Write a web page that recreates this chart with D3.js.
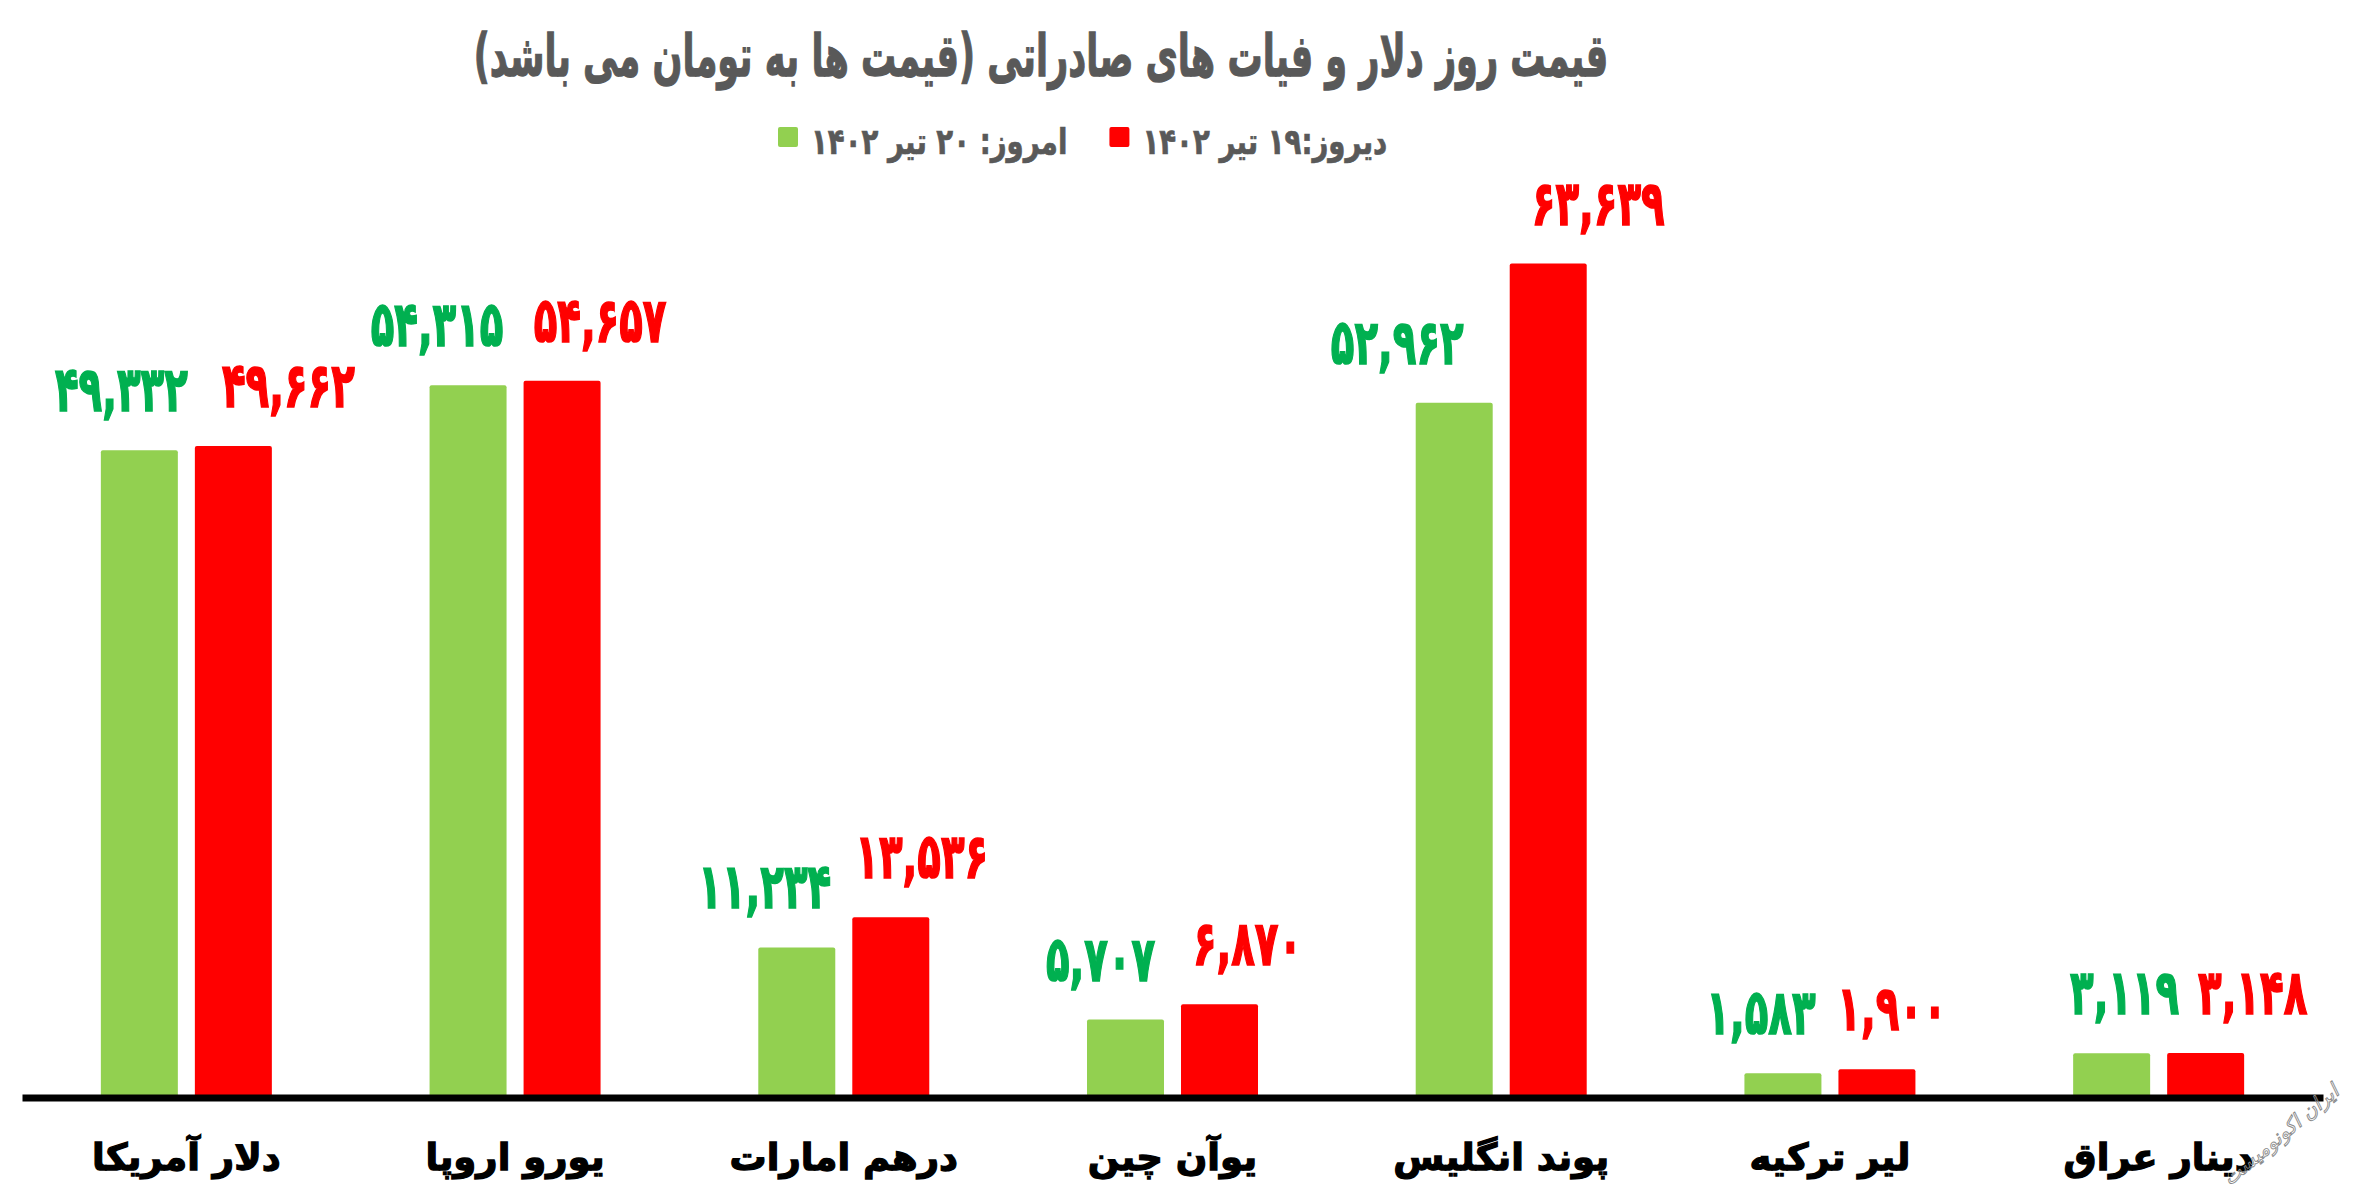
<!DOCTYPE html>
<html lang="fa">
<head>
<meta charset="utf-8">
<script src="https://cdnjs.cloudflare.com/ajax/libs/d3/7.8.5/d3.min.js"></script>
<style>
  html, body { margin: 0; padding: 0; background: #ffffff; }
  svg { display: block; }
</style>
</head>
<body>
<div id="chart"></div>
<script>
// ---------- data ----------
const categories = ["دلار آمریکا", "یورو اروپا", "درهم امارات", "یوآن چین", "پوند انگلیس", "لیر ترکیه", "دینار عراق"];
const todayValues = [49332, 54315, 11234, 5707, 52962, 1583, 3119];      // امروز: ۲۰ تیر ۱۴۰۲
const yesterdayValues = [49662, 54657, 13536, 6870, 63639, 1900, 3148];  // دیروز: ۱۹ تیر ۱۴۰۲
const seriesNames = ["امروز: ۲۰ تیر ۱۴۰۲", "دیروز:۱۹ تیر ۱۴۰۲"];
const titleText = "قیمت روز دلار و فیات های صادراتی (قیمت ها به تومان می باشد)";
const watermarkText = "ایران اکونومیست";

// ---------- layout / style (not data) ----------
const W = 2373, H = 1197;
const barColors = ["#92D050", "#FF0000"];
const labelColors = ["#00B050", "#FF0000"];
const labelNudgeToday = [-18, -31, -32, -25, -57, -22, 13];
const labelNudgeYesterday = [55, 38, 31, 28, 50, 15, 47];
const FONT = "'DejaVu Sans', sans-serif";

const toFa = s => String(s).replace(/[0-9]/g, d => "۰۱۲۳۴۵۶۷۸۹"[+d]);
const fmt = v => toFa(d3.format(",")(v));

const svg = d3.select("#chart").append("svg")
  .attr("width", W).attr("height", H)
  .attr("viewBox", `0 0 ${W} ${H}`);

svg.append("rect").attr("width", W).attr("height", H).attr("fill", "#fff");

const x0 = d3.scaleBand().domain(categories).range([22, 2323]).paddingInner(0).paddingOuter(0);
const groupW = 171;
const x1 = d3.scaleBand().domain([0, 1]).range([0, groupW]).paddingInner(0.181).paddingOuter(0);
const y = d3.scaleLinear().domain([0, 70000]).range([1094, 1094 - 0.01305 * 70000]);

const rows = categories.map((c, i) => ({
  cat: c,
  vals: [
    { s: 0, v: todayValues[i], nudge: labelNudgeToday[i] },
    { s: 1, v: yesterdayValues[i], nudge: labelNudgeYesterday[i] }
  ]
}));

const groups = svg.append("g").selectAll("g.grp").data(rows).join("g")
  .attr("class", "grp")
  .attr("transform", d => `translate(${x0(d.cat) + (x0.bandwidth() - groupW) / 2},0)`);

groups.selectAll("rect.bar").data(d => d.vals).join("rect")
  .attr("class", "bar")
  .attr("x", d => x1(d.s))
  .attr("width", x1.bandwidth())
  .attr("y", d => y(d.v))
  .attr("height", d => y(0) - y(d.v) + 3)
  .attr("rx", 2)
  .attr("fill", d => barColors[d.s]);

groups.selectAll("text.val").data(d => d.vals).join("text")
  .attr("class", "val")
  .attr("transform", d => `translate(${x1(d.s) + x1.bandwidth() / 2 + d.nudge},${y(d.v) - 39}) scale(0.88,1.42)`)
  .attr("text-anchor", "middle")
  .attr("direction", "ltr")
  .attr("font-family", FONT)
  .attr("font-weight", "bold")
  .attr("font-size", 44)
  .attr("fill", d => labelColors[d.s])
  .attr("stroke", d => labelColors[d.s])
  .attr("stroke-width", 1.2)
  .text(d => fmt(d.v));

// x axis
const xAxis = d3.axisBottom(x0).tickSize(0).tickPadding(46);
const axG = svg.append("g").attr("transform", `translate(0,${y(0) + 3.5})`).call(xAxis);
axG.select(".domain").attr("stroke", "#000").attr("stroke-width", 7);
axG.selectAll(".tick text")
  .attr("font-family", FONT)
  .attr("font-weight", "bold")
  .attr("font-size", 37)
  .attr("fill", "#000")
  .attr("stroke", "#000")
  .attr("stroke-width", 1.3)
  .attr("direction", "rtl")
  .attr("text-anchor", "middle");

// title (fitted to reference width, stretched vertically)
const title = svg.append("text")
  .attr("text-anchor", "middle")
  .attr("direction", "rtl")
  .attr("font-family", FONT)
  .attr("font-weight", "bold")
  .attr("font-size", 44)
  .attr("fill", "#595959")
  .attr("stroke", "#595959")
  .attr("stroke-width", 1)
  .text(titleText);
const tw = title.node().getComputedTextLength();
title.attr("transform", `translate(1041,76) scale(${1135 / tw},1.32)`);

// legend
const legend = svg.append("g").attr("transform", "translate(778,0)");
let lx = 0;
[0, 1].forEach(i => {
  legend.append("rect")
    .attr("x", lx).attr("y", 127).attr("width", 20).attr("height", 20)
    .attr("rx", 2).attr("fill", barColors[i]);
  const t = legend.append("text")
    .attr("transform", `translate(${lx + 33},154) scale(0.92,1.2)`)
    .attr("text-anchor", "start")
    .attr("font-family", FONT)
    .attr("font-weight", "bold")
    .attr("font-size", 30)
    .attr("fill", "#595959")
    .attr("stroke", "#595959")
    .attr("stroke-width", 0.6)
    .text(seriesNames[i]);
  lx += 33 + t.node().getComputedTextLength() * 0.92 + 42;
});

// watermark (faint outlined logo text, bottom-right)
svg.append("text")
  .attr("transform", "translate(2285,1140) rotate(-40)")
  .attr("text-anchor", "middle")
  .attr("direction", "rtl")
  .attr("font-family", FONT)
  .attr("font-style", "italic")
  .attr("font-size", 20)
  .attr("fill", "none")
  .attr("stroke", "#8a8a8a")
  .attr("stroke-width", 0.9)
  .text(watermarkText);
</script>
</body>
</html>
